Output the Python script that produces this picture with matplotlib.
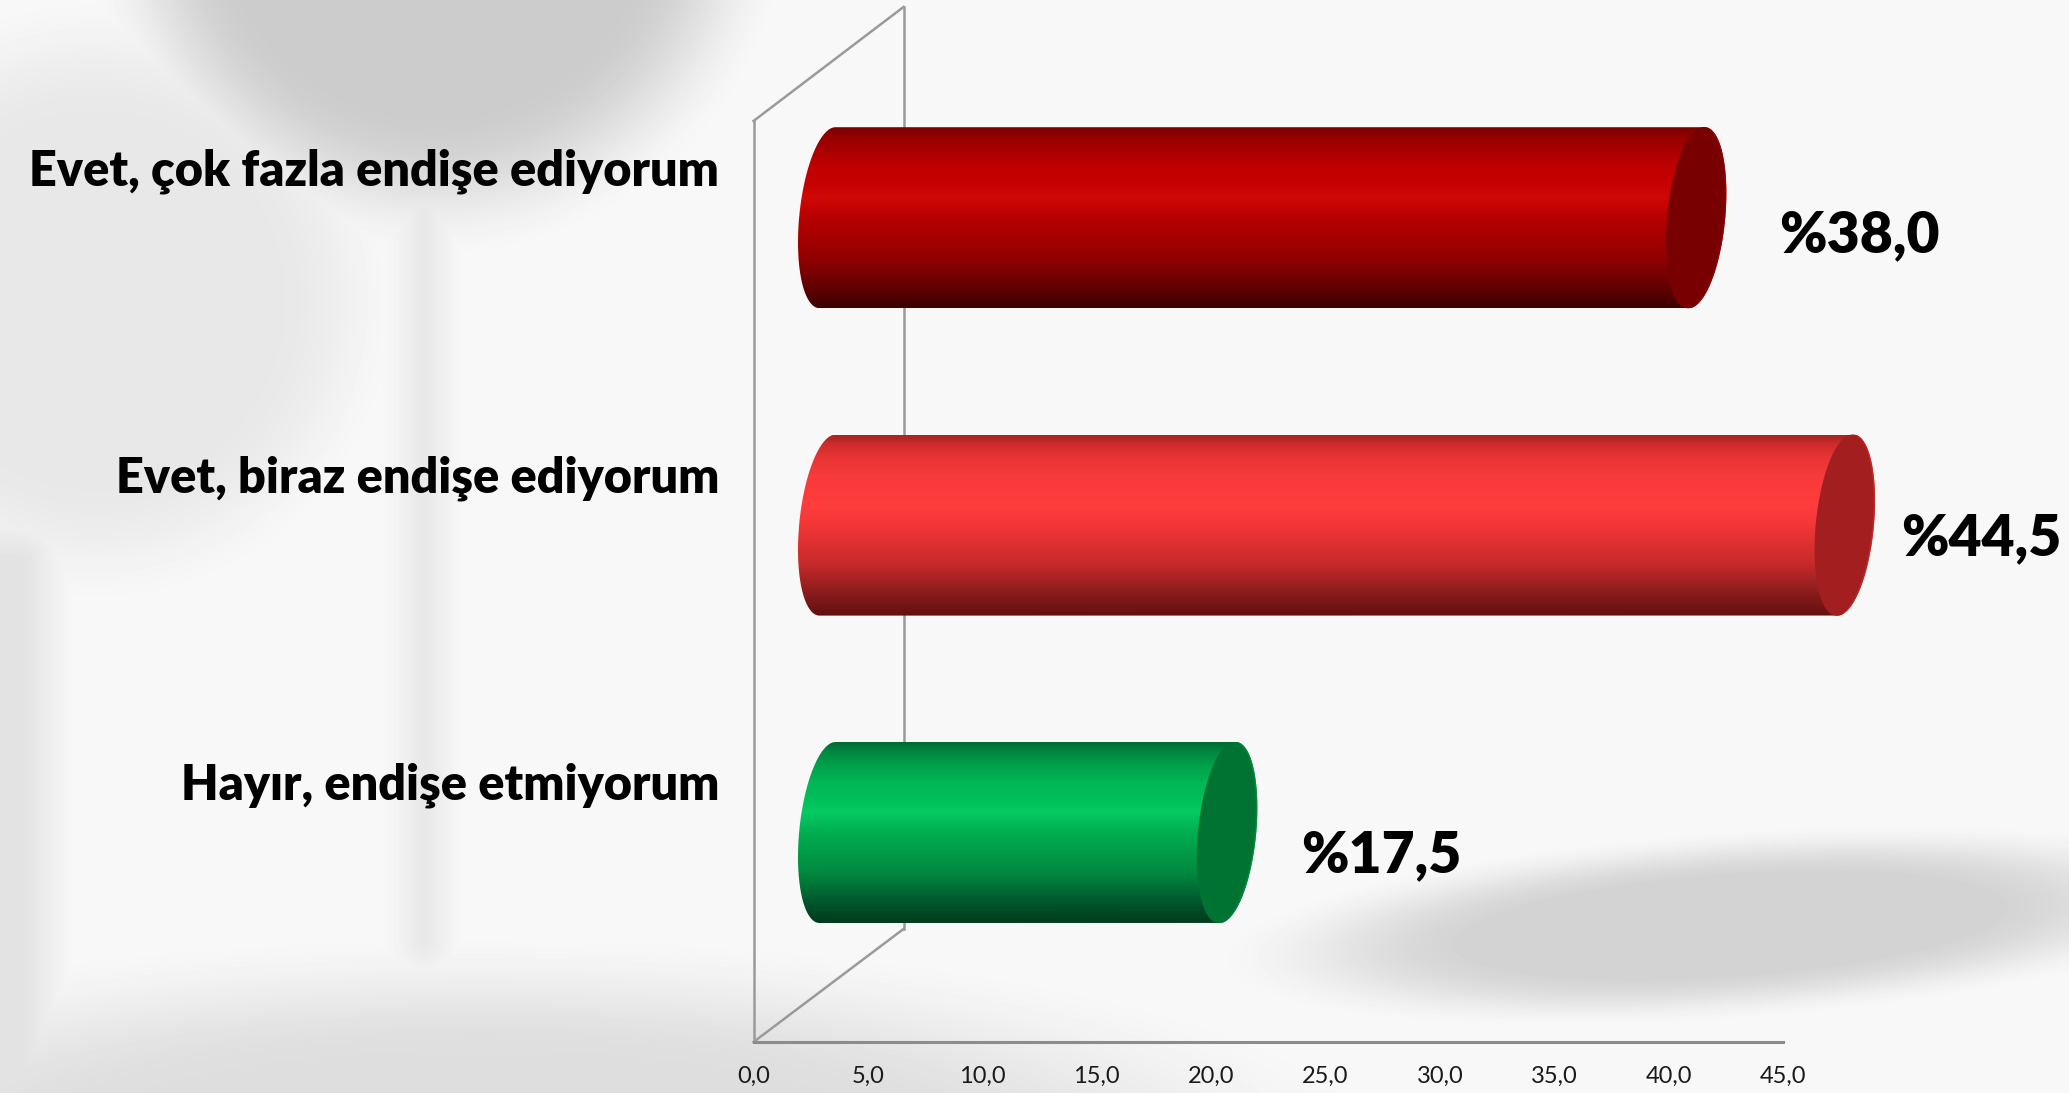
import numpy as np
import matplotlib
matplotlib.use("Agg")
import matplotlib.pyplot as plt
from matplotlib.path import Path
from matplotlib.patches import PathPatch
from matplotlib.colors import LinearSegmentedColormap, to_rgb

# ---------- data ----------
categories = ["Evet, çok fazla endişe ediyorum", "Evet, biraz endişe ediyorum", "Hayır, endişe etmiyorum"]
values = [38.0, 44.5, 17.5]
value_labels = ["%38,0", "%44,5", "%17,5"]
x_ticks = [0, 5, 10, 15, 20, 25, 30, 35, 40, 45]
x_tick_labels = ["0,0", "5,0", "10,0", "15,0", "20,0", "25,0", "30,0", "35,0", "40,0", "45,0"]

# ---------- styles ----------
stops = [0, .05, .125, .22, .32, .385, .5, .72, .9, 1]
ramps = [
    ["#7a0000", "#920000", "#a90000", "#c00000", "#c60000", "#d10808", "#b80000", "#930000", "#5e0000", "#3c0000"],
    ["#a52424", "#cf2c2c", "#ea3434", "#f73a3a", "#fc3b3b", "#ff3d3d", "#f23636", "#c42a2a", "#801a1a", "#621010"],
    ["#006a35", "#00863f", "#00a04a", "#00b655", "#00c05a", "#06ca62", "#00ae50", "#008a40", "#00522a", "#003c1c"],
]
cap_colors = ["#790000", "#a31f1f", "#007333"]
rim_colors = ["#8c0505", "#c02828", "#008a3e"]
label_offsets = [162.5, 136.0, 153.5]   # px, bar end to label centre
label_dy = [17.5, 13.0, 22.5]           # px, below bar centre

W, H = 2069, 1093
fig = plt.figure(figsize=(W / 100, H / 100), dpi=100)
plt.rcParams["font.family"] = ["Lato", "DejaVu Sans"]

# ---------- blurred backdrop ----------
yy, xx = np.mgrid[0:H, 0:W].astype(float)


def sstep(d, w):
    t = np.clip(0.5 - d / (2 * w), 0, 1)
    return t * t * (3 - 2 * t)


def circle(cx, cy, r, w):
    return sstep(np.hypot(xx - cx, yy - cy) - r, w)


def box(x0, x1, y0, y1, w):
    return sstep(x0 - xx, w) * sstep(xx - x1, w) * sstep(y0 - yy, w) * sstep(yy - y1, w)


dark = np.zeros((H, W))
dark += 44 * circle(435, -100, 290, 75)
dark = np.maximum(dark, 16 * circle(95, 300, 250, 65))
dark = np.maximum(dark, 21 * box(-40, 48, 530, 1200, 32))
dark = np.maximum(dark, 22 * box(400, 440, 170, 965, 26) * (0.6 + 0.4 * sstep(425 - xx, 30)))
bx = (xx - 480) / 680
by = (yy - 1150) / 160
dark = np.maximum(dark, 26 * sstep(np.hypot(bx, by) - 1, 0.4))
c, s = np.cos(np.radians(-4)), np.sin(np.radians(-4))
u = (xx - 1730) * c + (yy - 925) * s
v = -(xx - 1730) * s + (yy - 925) * c
dark = np.maximum(dark, 37 * sstep(np.hypot(u / 390, v / 72) - 1, 0.36))
bg = np.clip((248 - dark) / 255, 0, 1)
ax_bg = fig.add_axes([0, 0, 1, 1], zorder=0)
ax_bg.imshow(bg, cmap="gray", vmin=0, vmax=1, aspect="auto", interpolation="bilinear")
ax_bg.axis("off")

# ---------- chart axes ----------
X0, X1 = 753.5, 1783.0
Y_BOTTOM, Y_TOP = 1042.0, 7.0
CY0, DY = 217.7, 307.4
ax = fig.add_axes([X0 / W, 1 - Y_BOTTOM / H, (X1 - X0) / W, (Y_BOTTOM - Y_TOP) / H], zorder=1)
ax.patch.set_alpha(0)
PX = (X1 - X0) / 45.0
ylim = ((Y_BOTTOM - CY0) / DY, (Y_TOP - CY0) / DY)
xlim = (0, 45)

line = "#9a9a9a"
LW = 1.8
front_top = (121.0 - CY0) / DY
back_x = 150.0 / PX
back_dy = 113.0 / DY
# 3D wall: back edge and the two diagonals
ax.plot([back_x, back_x], [ylim[1], ylim[0] - back_dy], color=line, lw=LW, zorder=1, clip_on=False)
ax.plot([0, back_x], [front_top, ylim[1]], color=line, lw=LW, zorder=1, clip_on=False)
ax.plot([0, back_x], [ylim[0], ylim[0] - back_dy], color=line, lw=LW, zorder=1, clip_on=False)

# ---------- cylinders ----------
OFF = 74.0 / PX
A = 28.4 / PX
SK = 8.0 / PX
B = 90.5 / DY


def arc(cx, cy, t0, t1, n=80):
    t = np.radians(np.linspace(t0, t1, n))
    # y axis is inverted: positive sin(t) means upward on the page
    return np.c_[cx + A * np.cos(t) + SK * np.sin(t), cy - B * np.sin(t)]


for i, val in enumerate(values):
    x_end = OFF + val
    body = np.vstack([arc(OFF, i, 90, 270), arc(x_end, i, 270, 450)])
    cm = LinearSegmentedColormap.from_list("r", list(zip(stops, [to_rgb(k) for k in ramps[i]])))
    im = ax.imshow(np.linspace(0, 1, 256)[:, None], cmap=cm, vmin=0, vmax=1, aspect="auto",
                   extent=(OFF - 2, x_end + 2, i + B, i - B), zorder=2, interpolation="bilinear")
    im.set_clip_path(PathPatch(Path(np.vstack([body, body[:1]])), transform=ax.transData))
    im.set_clip_box(fig.bbox)
    ax.add_patch(PathPatch(Path(arc(x_end, i, 0, 360, 160)), fc=rim_colors[i], ec="none", zorder=2.5, clip_on=False))
    ax.add_patch(PathPatch(Path(arc(x_end - 1.5 / PX, i, 0, 360, 160)), fc=cap_colors[i], ec="none", zorder=3, clip_on=False))
    ax.text(x_end + label_offsets[i] / PX, i + label_dy[i] / DY, value_labels[i], ha="center", va="center",
            fontsize=41, fontweight="heavy", color="black", zorder=4, clip_on=False)

ax.set_xlim(*xlim)
ax.set_ylim(*ylim)
ax.set_xticks(x_ticks, x_tick_labels, fontsize=17, color="#1a1a1a")
ax.set_yticks(np.arange(len(categories)) - 51.0 / DY, categories, fontsize=35, fontweight="heavy", color="black")
ax.tick_params(axis="x", length=0, pad=17)
ax.tick_params(axis="y", length=0, pad=24.8)
for sp in ["top", "right"]:
    ax.spines[sp].set_visible(False)
ax.spines["left"].set_color(line)
ax.spines["left"].set_linewidth(LW)
ax.spines["left"].set_bounds(ylim[0], front_top)
ax.spines["bottom"].set_color("#8c8c8c")
ax.spines["bottom"].set_linewidth(2.2)

fig.savefig("out.png", dpi=100)
